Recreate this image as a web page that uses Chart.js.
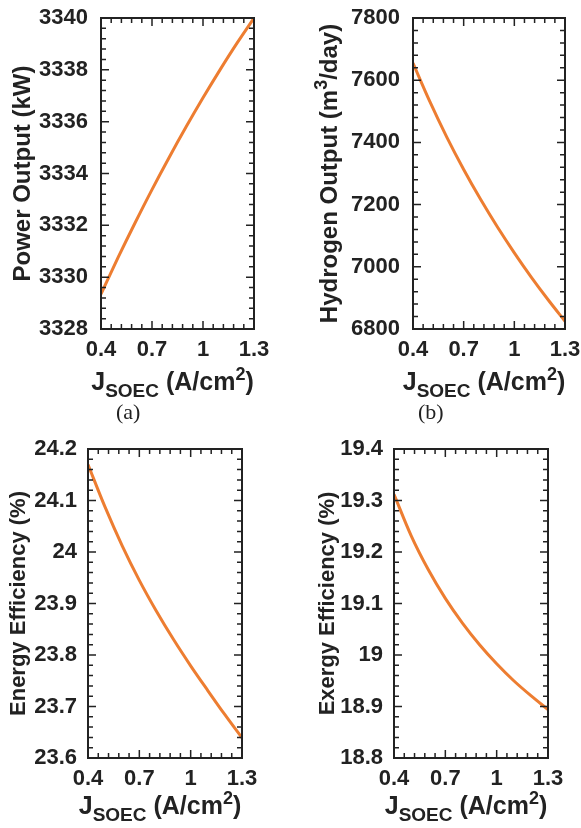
<!DOCTYPE html>
<html>
<head>
<meta charset="utf-8">
<title>SOEC current density study</title>
<script src="https://cdn.jsdelivr.net/npm/chart.js@4.4.1/dist/chart.umd.min.js"></script>
<style>
  body { margin: 0; background: #fff; }
  #page { position: relative; width: 581px; height: 828px; overflow: hidden; background: #fff; }
  #page canvas { position: absolute; }
  .caption { position: absolute; font-family: "Liberation Serif", "Times New Roman", serif; font-size: 22px; color: #222; }
</style>
</head>
<body>
<div id="page">
  <canvas id="powerChart" width="290" height="420" style="left:0;top:0"></canvas>
  <canvas id="hydrogenChart" width="291" height="420" style="left:290px;top:0"></canvas>
  <canvas id="energyChart" width="290" height="403" style="left:0;top:425px"></canvas>
  <canvas id="exergyChart" width="291" height="403" style="left:290px;top:425px"></canvas>
  <div class="caption" style="left:116px;top:399px">(a)</div>
  <div class="caption" style="left:418px;top:399px">(b)</div>
</div>
<script>
// SOEC current density (A/cm2) and the four responses
const jSoec = [0.4, 0.5, 0.6, 0.7, 0.8, 0.9, 1.0, 1.1, 1.2, 1.3];
const powerOutput = [3329.35, 3330.75, 3332.09, 3333.38, 3334.61, 3335.79, 3336.92, 3338.00, 3339.03, 3340.00];
const hydrogenOutput = [7655, 7531, 7417, 7313, 7217, 7128, 7045, 6967, 6894, 6825];
const energyEfficiency = [24.170, 24.087, 24.012, 23.945, 23.885, 23.830, 23.779, 23.731, 23.684, 23.639];
const exergyEfficiency = [19.312, 19.232, 19.166, 19.110, 19.062, 19.020, 18.983, 18.950, 18.921, 18.894];

const xTicks = [0.4, 0.7, 1.0, 1.3];
const xTickLabels = ['0.4', '0.7', '1', '1.3'];
const powerTicks = [3328, 3330, 3332, 3334, 3336, 3338, 3340];
const hydrogenTicks = [6800, 7000, 7200, 7400, 7600, 7800];
const energyTicks = [23.6, 23.7, 23.8, 23.9, 24, 24.1, 24.2];
const exergyTicks = [18.8, 18.9, 19, 19.1, 19.2, 19.3, 19.4];

const FONT = '"Liberation Sans", Arial, sans-serif';
const INK = '#222';
const LINE = '#ED7D31';

// draws a run of text pieces (with sub/superscripts) centred on cx
function drawRich(ctx, parts, cx, baseY) {
  let total = 0;
  parts.forEach(p => {
    ctx.font = 'bold ' + p.size + 'px ' + FONT;
    p.w = ctx.measureText(p.t).width;
    total += p.w;
  });
  let x = cx - total / 2;
  ctx.textAlign = 'left';
  ctx.textBaseline = 'alphabetic';
  parts.forEach(p => {
    ctx.font = 'bold ' + p.size + 'px ' + FONT;
    ctx.fillText(p.t, x, baseY + (p.dy || 0));
    x += p.w;
  });
}

const xTitle = [
  { t: 'J', size: 25 },
  { t: 'SOEC', size: 19, dy: 7 },
  { t: ' (A/cm', size: 25 },
  { t: '2', size: 18, dy: -10 },
  { t: ')', size: 25 }
];

// box frame, inward major/minor ticks and axis titles
const frameTicks = {
  id: 'frameTicks',
  afterDraw(chart, args, opts) {
    const { ctx, chartArea: a } = chart;
    const xs = chart.scales.x, ys = chart.scales.y;
    const major = 8, minor = 5, nMinor = 5;
    ctx.save();
    ctx.strokeStyle = INK;
    ctx.lineWidth = 1.5;
    ctx.beginPath();
    xTicks.forEach((v, i) => {
      const px = xs.getPixelForValue(v);
      ctx.moveTo(px, a.bottom); ctx.lineTo(px, a.bottom - major);
      ctx.moveTo(px, a.top); ctx.lineTo(px, a.top + major);
      if (i < xTicks.length - 1) {
        const step = (xTicks[i + 1] - v) / nMinor;
        for (let k = 1; k < nMinor; k++) {
          const mx = xs.getPixelForValue(v + k * step);
          ctx.moveTo(mx, a.bottom); ctx.lineTo(mx, a.bottom - minor);
          ctx.moveTo(mx, a.top); ctx.lineTo(mx, a.top + minor);
        }
      }
    });
    const yt = opts.ticks;
    yt.forEach((v, i) => {
      const py = ys.getPixelForValue(v);
      ctx.moveTo(a.left, py); ctx.lineTo(a.left + major, py);
      ctx.moveTo(a.right, py); ctx.lineTo(a.right - major, py);
      if (i < yt.length - 1) {
        const step = (yt[i + 1] - v) / nMinor;
        for (let k = 1; k < nMinor; k++) {
          const my = ys.getPixelForValue(v + k * step);
          ctx.moveTo(a.left, my); ctx.lineTo(a.left + minor, my);
          ctx.moveTo(a.right, my); ctx.lineTo(a.right - minor, my);
        }
      }
    });
    ctx.stroke();
    ctx.lineWidth = 2;
    ctx.strokeRect(a.left, a.top, a.right - a.left, a.bottom - a.top);

    ctx.fillStyle = INK;
    drawRich(ctx, xTitle, (a.left + a.right) / 2 - 5, a.bottom + opts.xTitleGap);

    ctx.translate(opts.yTitleX, (a.top + a.bottom) / 2);
    ctx.rotate(-Math.PI / 2);
    drawRich(ctx, opts.yTitle, 0, 8);
    ctx.restore();
  }
};

function makePanel(id, values, yTicks, yTitle, box) {
  const tickFont = { family: FONT, size: 22, weight: 'bold' };
  new Chart(document.getElementById(id), {
    type: 'line',
    data: {
      datasets: [{
        data: jSoec.map((x, i) => ({ x: x, y: values[i] })),
        borderColor: LINE,
        borderWidth: 3,
        pointRadius: 0,
        fill: false,
        cubicInterpolationMode: 'monotone'
      }]
    },
    options: {
      responsive: false,
      animation: false,
      events: [],
      layout: { padding: { top: box.top, right: box.right, left: 0, bottom: 0 } },
      plugins: {
        legend: { display: false },
        tooltip: { enabled: false },
        frameTicks: { ticks: yTicks, yTitle: yTitle, yTitleX: box.yTitleX, xTitleGap: box.xTitleGap }
      },
      scales: {
        x: {
          type: 'linear',
          min: xTicks[0],
          max: xTicks[xTicks.length - 1],
          afterBuildTicks: s => { s.ticks = xTicks.map(v => ({ value: v })); },
          afterFit: s => { s.height = box.xH; s.paddingLeft = 0; s.paddingRight = 0; },
          grid: { display: false, drawTicks: false },
          border: { display: false },
          ticks: {
            callback: (v, i) => xTickLabels[i],
            font: tickFont, color: INK, padding: 8,
            autoSkip: false, maxRotation: 0
          }
        },
        y: {
          min: yTicks[0],
          max: yTicks[yTicks.length - 1],
          afterBuildTicks: s => { s.ticks = yTicks.map(v => ({ value: v })); },
          afterFit: s => { s.width = box.left; s.paddingTop = 0; s.paddingBottom = 0; },
          grid: { display: false, drawTicks: false },
          border: { display: false },
          ticks: {
            callback: v => String(v),
            font: tickFont, color: INK, padding: box.tickPad,
            autoSkip: false
          }
        }
      }
    },
    plugins: [frameTicks]
  });
}

makePanel('powerChart', powerOutput, powerTicks,
  [{ t: 'Power Output (kW)', size: 24 }],
  { left: 101, top: 18, right: 36, xH: 91, yTitleX: 22, xTitleGap: 61, tickPad: 13 });

makePanel('hydrogenChart', hydrogenOutput, hydrogenTicks,
  [{ t: 'Hydrogen Output (m', size: 24 }, { t: '3', size: 18, dy: -10 }, { t: '/day)', size: 24 }],
  { left: 123, top: 18, right: 16, xH: 91, yTitleX: 39, xTitleGap: 61, tickPad: 13 });

makePanel('energyChart', energyEfficiency, energyTicks,
  [{ t: 'Energy Efficiency (%)', size: 22 }],
  { left: 88, top: 24, right: 48, xH: 70, yTitleX: 17, xTitleGap: 56, tickPad: 11 });

makePanel('exergyChart', exergyEfficiency, exergyTicks,
  [{ t: 'Exergy Efficiency (%)', size: 22 }],
  { left: 104, top: 24, right: 33, xH: 70, yTitleX: 36, xTitleGap: 56, tickPad: 11 });
</script>
</body>
</html>
